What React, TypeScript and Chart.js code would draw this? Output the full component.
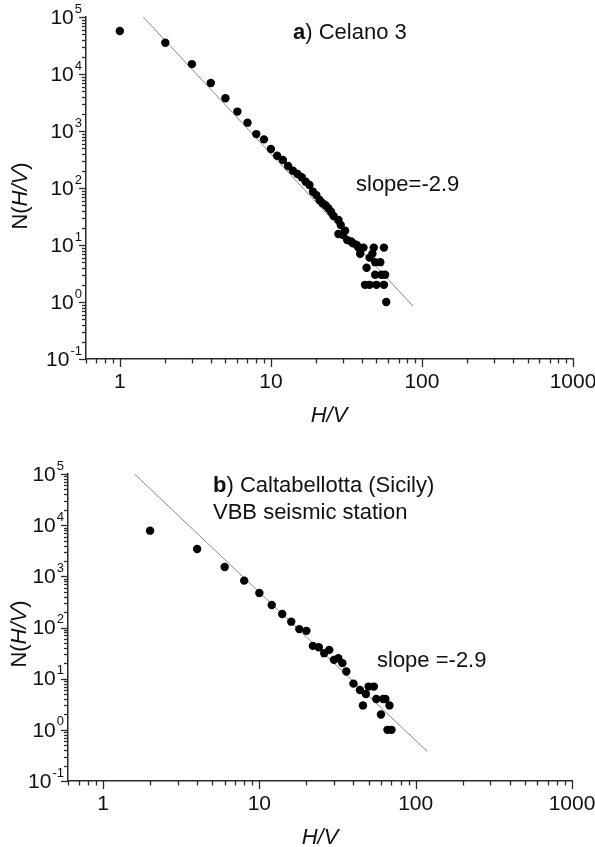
import React, { useEffect, useRef } from "react";
import { Chart, registerables } from "chart.js";
Chart.register(...registerables);

const FONT = '"Liberation Sans", Arial, Helvetica, sans-serif';
const AXIS_COLOR = "#2a2a2a";
const TEXT_COLOR = "#111";

const X_MIN = 0.597;
const X_MAX = 1000;
const Y_MIN = 0.1;
const Y_MAX = 1e5;
const X_TICK_VALUES = [1, 10, 100, 1000];
const X_TICK_LABELS = ["1", "10", "100", "1000"];
const Y_TICK_EXPONENTS = [-1, 0, 1, 2, 3, 4, 5];

// Panel a) Celano 3
const A_HV = [1, 2, 3, 4, 5, 6, 7, 8, 9, 10, 11, 12, 13, 14, 15, 16, 17, 18, 19, 20, 21, 22, 23, 24, 25, 26, 28, 29, 28, 30, 31, 32, 34, 35, 37, 38, 41, 48, 56, 39, 47, 45, 49, 53, 43, 49, 54, 57, 42, 45, 50, 56, 58];
const A_N = [56800, 35300, 14900, 6970, 3750, 2190, 1400, 883, 713, 482, 369, 310, 243, 201, 176, 154, 129, 113, 86, 75, 61.5, 54, 50, 44, 38.4, 32.3, 27.5, 22.4, 15.6, 15, 17.8, 12.2, 11.5, 10.7, 10, 9, 9, 9, 9, 7, 7, 6, 5, 5, 4, 3, 3, 3, 2, 2, 2, 2, 1];
const A_FIT_HV = [1.43, 87.2];
const A_FIT_N = [1e5, 0.85];

// Panel b) Caltabellotta (Sicily)
const B_HV = [2, 4, 6, 8, 10, 12, 14, 16, 18, 20, 22, 24, 26, 28, 30, 32, 34, 36, 40, 44, 50, 54, 48, 56, 62, 64, 68, 46, 60, 66, 70];
const B_N = [7810, 3430, 1527, 824, 474, 276, 184, 130, 93, 86, 43.7, 41, 31.5, 36.5, 23.3, 25.1, 20.1, 13.8, 8, 6, 7, 7, 5, 4, 4, 4, 3, 3, 2, 1, 1];
const B_FIT_HV = [1.59, 119];
const B_FIT_N = [1e5, 0.374];

type Part = { text: string; bold?: boolean; italic?: boolean };
type Note = { parts: Part[]; x: number; y: number };
type Panel = {
  hv: number[];
  n: number[];
  fitHv: number[];
  fitN: number[];
  top: number;
  height: number;
  padTop: number;
  padRight: number;
  yAxisW: number;
  xAxisH: number;
  yTitle: { x: number; y: number };
  xTitle: { x: number; y: number };
  notes: Note[];
};

const TITLE_Y: Part[] = [{ text: "N(" }, { text: "H/V", italic: true }, { text: ")" }];
const TITLE_X: Part[] = [{ text: "H/V", italic: true }];

const PANEL_A: Panel = {
  hv: A_HV, n: A_N, fitHv: A_FIT_HV, fitN: A_FIT_N,
  top: 0, height: 440, padTop: 17, padRight: 22, yAxisW: 86, xAxisH: 81,
  yTitle: { x: 21, y: 196 }, xTitle: { x: 329, y: 416 },
  notes: [
    { parts: [{ text: "a", bold: true }, { text: ") Celano 3" }], x: 293, y: 33 },
    { parts: [{ text: "slope=-2.9" }], x: 356, y: 185 },
  ],
};

const PANEL_B: Panel = {
  hv: B_HV, n: B_N, fitHv: B_FIT_HV, fitN: B_FIT_N,
  top: 420, height: 427, padTop: 54, padRight: 23, yAxisW: 68, xAxisH: 66,
  yTitle: { x: 20, y: 214 }, xTitle: { x: 320, y: 418 },
  notes: [
    { parts: [{ text: "b", bold: true }, { text: ") Caltabellotta (Sicily)" }], x: 213, y: 66 },
    { parts: [{ text: "VBB seismic station" }], x: 213, y: 92.5 },
    { parts: [{ text: "slope =-2.9" }], x: 377, y: 240.5 },
  ],
};

const LABEL_SIZE = 21;
const SUP_SIZE = 13;
const TEXT_SIZE = 22;

function fontFor(p: Part, size: number) {
  return `${p.italic ? "italic " : ""}${p.bold ? "bold " : ""}${size}px ${FONT}`;
}

function partsWidth(ctx: CanvasRenderingContext2D, parts: Part[], size: number) {
  let w = 0;
  for (const p of parts) {
    ctx.font = fontFor(p, size);
    w += ctx.measureText(p.text).width;
  }
  return w;
}

function drawParts(ctx: CanvasRenderingContext2D, parts: Part[], x: number, y: number, size: number) {
  let cx = x;
  ctx.textAlign = "left";
  ctx.textBaseline = "middle";
  for (const p of parts) {
    ctx.font = fontFor(p, size);
    ctx.fillText(p.text, cx, y);
    cx += ctx.measureText(p.text).width;
  }
}

function makeAxisPlugin(panel: Panel) {
  return {
    id: "axisDecor",
    afterDraw(chart: any) {
      const { ctx, chartArea } = chart;
      const xs = chart.scales.x;
      const ys = chart.scales.y;
      ctx.save();
      ctx.strokeStyle = AXIS_COLOR;
      ctx.fillStyle = TEXT_COLOR;
      ctx.lineWidth = 1.3;
      // x ticks (outward)
      for (let e = -1; e <= 3; e++) {
        for (let m = 1; m <= 9; m++) {
          const v = m * Math.pow(10, e);
          if (v < X_MIN * 0.999 || v > X_MAX * 1.001) continue;
          const px = Math.round(xs.getPixelForValue(v)) + 0.5;
          const len = m === 1 ? 8 : 4.5;
          ctx.beginPath();
          ctx.moveTo(px, chartArea.bottom);
          ctx.lineTo(px, chartArea.bottom + len);
          ctx.stroke();
        }
      }
      // y ticks (outward)
      for (let e = -1; e <= 5; e++) {
        for (let m = 1; m <= 9; m++) {
          const v = m * Math.pow(10, e);
          if (v < Y_MIN * 0.999 || v > Y_MAX * 1.001) continue;
          const py = Math.round(ys.getPixelForValue(v)) + 0.5;
          const len = m === 1 ? 7 : 4;
          ctx.beginPath();
          ctx.moveTo(chartArea.left, py);
          ctx.lineTo(chartArea.left - len, py);
          ctx.stroke();
        }
      }
      // x labels
      ctx.font = `${LABEL_SIZE}px ${FONT}`;
      ctx.textAlign = "center";
      ctx.textBaseline = "middle";
      X_TICK_VALUES.forEach((v, i) => {
        ctx.fillText(X_TICK_LABELS[i], xs.getPixelForValue(v), chartArea.bottom + 23);
      });
      // y labels with superscripts
      Y_TICK_EXPONENTS.forEach((e) => {
        const py = ys.getPixelForValue(Math.pow(10, e));
        const sup = e < 0 ? "-" + Math.abs(e) : String(e);
        const right = chartArea.left - 4;
        ctx.font = `${SUP_SIZE}px ${FONT}`;
        const sw = ctx.measureText(sup).width;
        ctx.textAlign = "right";
        ctx.textBaseline = "middle";
        ctx.fillText(sup, right, py - 8);
        ctx.font = `${LABEL_SIZE}px ${FONT}`;
        ctx.fillText("10", right - sw - 1, py + 1);
      });
      // axis titles
      ctx.save();
      ctx.translate(panel.yTitle.x, panel.yTitle.y);
      ctx.rotate(-Math.PI / 2);
      const tw = partsWidth(ctx, TITLE_Y, TEXT_SIZE);
      drawParts(ctx, TITLE_Y, -tw / 2, 0, TEXT_SIZE);
      ctx.restore();
      const xw = partsWidth(ctx, TITLE_X, TEXT_SIZE);
      drawParts(ctx, TITLE_X, panel.xTitle.x - xw / 2, panel.xTitle.y, TEXT_SIZE);
      // notes
      panel.notes.forEach((n) => drawParts(ctx, n.parts, n.x, n.y, TEXT_SIZE));
      ctx.restore();
    },
  };
}

function PanelChart({ panel }: { panel: Panel }) {
  const ref = useRef<HTMLCanvasElement>(null);
  useEffect(() => {
    if (!ref.current) return;
    const chart = new Chart(ref.current, {
      type: "scatter",
      data: {
        datasets: [
          {
            type: "line",
            data: panel.fitHv.map((x, i) => ({ x, y: panel.fitN[i] })),
            borderColor: "#8a8a8a",
            borderWidth: 1,
            pointRadius: 0,
            fill: false,
            order: 2,
          } as any,
          {
            type: "scatter",
            data: panel.hv.map((x, i) => ({ x, y: panel.n[i] })),
            backgroundColor: "#000",
            borderColor: "#000",
            borderWidth: 0,
            pointRadius: 4.2,
            order: 1,
          } as any,
        ],
      },
      options: {
        responsive: false,
        animation: false,
        devicePixelRatio: 1,
        layout: { padding: { left: 0, right: panel.padRight, top: panel.padTop, bottom: 0 } },
        plugins: { legend: { display: false }, tooltip: { enabled: false } },
        scales: {
          x: {
            type: "logarithmic",
            min: X_MIN,
            max: X_MAX,
            grid: { display: false },
            ticks: { display: false },
            border: { display: true, color: AXIS_COLOR, width: 1.5 },
            afterFit: (s: any) => { s.height = panel.xAxisH; },
          },
          y: {
            type: "logarithmic",
            min: Y_MIN,
            max: Y_MAX,
            grid: { display: false },
            ticks: { display: false },
            border: { display: true, color: AXIS_COLOR, width: 1.5 },
            afterFit: (s: any) => { s.width = panel.yAxisW; },
          },
        },
      } as any,
      plugins: [makeAxisPlugin(panel)],
    });
    return () => chart.destroy();
  }, [panel]);
  return (
    <canvas
      ref={ref}
      width={595}
      height={panel.height}
      style={{ position: "absolute", left: 0, top: panel.top, width: 595, height: panel.height }}
    />
  );
}

export default function App() {
  return (
    <div style={{ position: "absolute", left: 0, top: 0, width: 595, height: 847, background: "#fff", overflow: "hidden" }}>
      <PanelChart panel={PANEL_A} />
      <PanelChart panel={PANEL_B} />
    </div>
  );
}
